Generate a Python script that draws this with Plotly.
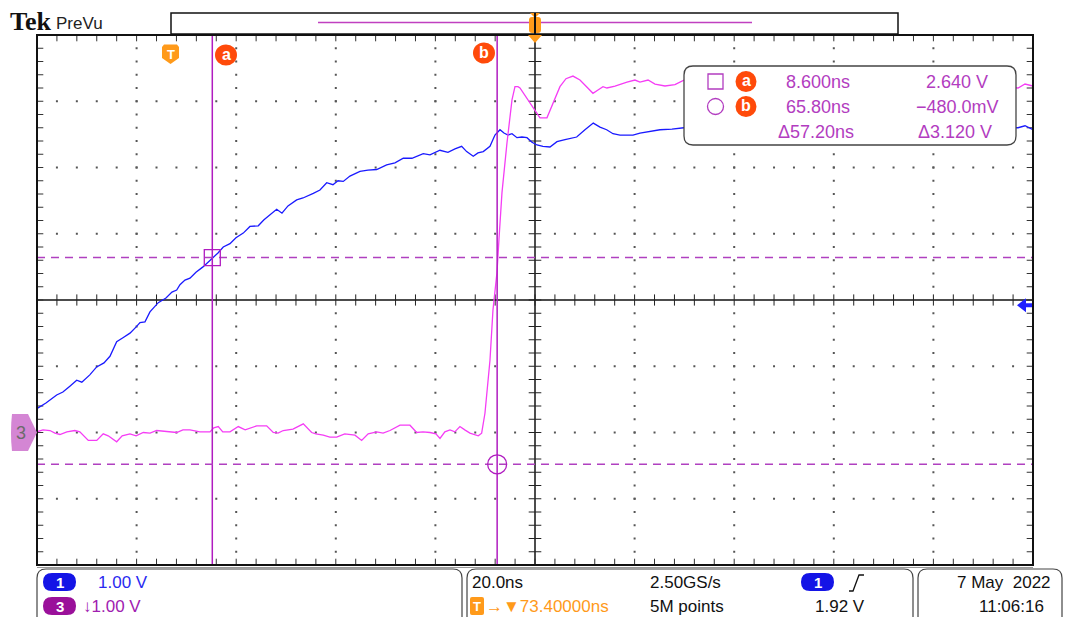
import numpy as np
import plotly.graph_objects as go

# ---------------- data ----------------
# Channel 1 (blue), time in ns relative to trigger, volts
ch1_t = [-26.55, -24.8, -22.65, -21.4, -20.0, -18.63, -17.6, -16.0, -14.62, -13.15, -11.95, -10.6,
         -9.34, -7.93, -6.73, -5.92, -4.92, -3.92, -2.25, -0.7, 0.5, 1.45, 2.11, 3.11, 4.12, 5.32,
         6.73, 7.73, 8.8, 9.74, 10.8, 12.15, 13.35, 14.82, 16.16, 17.83, 18.98, 20.18, 21.53, 22.59,
         23.8, 25.54, 26.81, 28.88, 30.22, 31.57, 32.83, 33.84, 34.9, 36.24, 38.25, 39.86, 41.61,
         43.61, 45.28, 46.95, 48.69, 50.96, 52.31, 54.32, 55.92, 57.33, 58.67, 59.68, 61.0, 61.95,
         63.01, 64.36, 65.36, 66.37, 67.17, 67.97, 68.78, 69.78, 70.78, 71.79, 72.79, 73.8, 75.0,
         76.41, 77.81, 79.42, 81.77, 83.43, 85.1, 86.45, 87.79, 89.06, 90.46, 91.87, 93.07, 94.48,
         96.49, 98.49, 100.9, 103.3, 120.0, 140.0, 160.0, 170.4, 171.8, 173.4]
ch1_v = [0.365, 0.445, 0.566, 0.611, 0.70, 0.79, 0.76, 0.87, 0.99, 1.05, 1.15, 1.37,
         1.43, 1.50, 1.59, 1.66, 1.67, 1.82, 1.96, 2.03, 2.12, 2.15, 2.23, 2.30, 2.33, 2.42,
         2.50, 2.57, 2.65, 2.71, 2.80, 2.85, 2.94, 3.01, 3.11, 3.12, 3.21, 3.28, 3.37, 3.31,
         3.42, 3.51, 3.54, 3.61, 3.66, 3.77, 3.74, 3.80, 3.79, 3.87, 3.94, 3.96, 3.97,
         4.04, 4.07, 4.14, 4.14, 4.21, 4.19, 4.26, 4.23, 4.28, 4.32, 4.24, 4.17, 4.22,
         4.24, 4.32, 4.49, 4.57, 4.52, 4.49, 4.51, 4.45, 4.46, 4.45, 4.38, 4.34, 4.32,
         4.31, 4.39, 4.42, 4.46, 4.57, 4.67, 4.61, 4.57, 4.51, 4.49, 4.49, 4.49, 4.52,
         4.55, 4.57, 4.58, 4.60, 4.60, 4.62, 4.60, 4.60, 4.63, 4.57]

# Channel 3 (magenta)
ch3_t = [-26.67, -25.4, -24.0, -23.0, -22.0, -20.6, -19.0, -18.0, -16.3, -14.6, -13.3, -12.3, -10.6,
         -9.5, -7.93, -6.7, -5.26, -3.9, -2.57, -0.9, 1.45, 2.7, 4.12, 6.1, 8.13, 8.9, 9.8, 10.7,
         12.15, 13.82, 15.2, 17.51, 19.52, 20.84, 21.8, 22.85, 24.8, 26.87, 27.6, 28.55, 29.4,
         30.88, 32.2, 33.57, 35.2, 37.25, 38.59, 39.9, 41.61, 42.9, 44.28, 46.29, 48.29, 49.64,
         50.9, 52.31, 53.5, 54.32, 55.3, 56.33, 57.3, 58.33, 59.3, 60.34, 62.01, 62.69, 63.35,
         63.96, 64.36, 64.96, 65.76, 66.16, 66.77, 67.77, 68.78, 69.38, 69.98, 70.38, 71.39,
         72.39, 73.39, 74.4, 75.8, 77.01, 78.41, 79.62, 81.02, 82.43, 83.84, 85.04, 86.05,
         87.05, 87.85, 89.46, 91.87, 93.47, 94.48, 96.1, 97.5, 99.5, 101.5, 103.3, 120.0,
         140.0, 160.0, 170.4, 171.8, 173.4]
ch3_v = [0.01, 0.04, 0.03, -0.01, -0.03, 0.01, 0.03, 0.01, -0.12, -0.12, -0.02, -0.05, -0.14,
         -0.05, -0.02, -0.05, 0.00, -0.01, 0.03, 0.02, 0.00, 0.04, 0.04, 0.01, 0.01, 0.07, 0.09, 0.01,
         0.01, 0.09, 0.04, 0.10, 0.10, 0.00, -0.01, 0.03, 0.05, 0.13, 0.07, 0.00, -0.02,
         -0.04, -0.07, -0.07, -0.02, -0.04, -0.12, -0.02, 0.01, -0.01, 0.03, 0.11, 0.11, 0.00,
         0.01, 0.00, -0.02, -0.09, 0.01, 0.04, 0.01, 0.09, 0.04, -0.01, -0.05, -0.01, 0.29,
         0.72, 1.09, 1.85, 2.41, 2.91, 3.62, 4.37, 5.02, 5.22, 5.22, 5.20, 5.09,
         4.97, 4.87, 4.75, 4.75, 4.97, 5.22, 5.34, 5.38, 5.32, 5.22, 5.12, 5.17,
         5.22, 5.20, 5.23, 5.29, 5.32, 5.29, 5.32, 5.26, 5.23, 5.25, 5.32, 5.27,
         5.25, 5.27, 5.20, 5.26, 5.23]

# scope settings
time_per_div = 20.0      # ns/div
volts_per_div = 1.0      # V/div
h_delay = 73.4           # ns, screen centre relative to trigger
ground_div = -2.0        # ch1/ch3 ground position (div from centre)
cursor_a = (8.6, 2.64)   # ns, V
cursor_b = (65.8, -0.48)
trigger_level = 1.92     # V on ch1

readout_rows = [("8.600ns", "2.640 V"), ("65.80ns", "\u2212480.0mV"), ("\u039457.20ns", "\u03943.120 V")]

t_range = [h_delay - 5 * time_per_div, h_delay + 5 * time_per_div]
v_range = [(-4 - ground_div) * volts_per_div, (4 - ground_div) * volts_per_div]

# ---------------- layout geometry (pixels) ----------------
W, H = 1065, 617
L, R, T, B = 37, 1033, 35, 565


def PX(x):
    return (x - L) / (R - L)


def PY(y):
    return (B - y) / (B - T)


def pt(x, y):
    return f"{PX(x):.5f},{PY(y):.5f}"


def rrect(x0, y0, x1, y1, r):
    return (f"M {pt(x0 + r, y0)} L {pt(x1 - r, y0)} Q {pt(x1, y0)} {pt(x1, y0 + r)} "
            f"L {pt(x1, y1 - r)} Q {pt(x1, y1)} {pt(x1 - r, y1)} L {pt(x0 + r, y1)} "
            f"Q {pt(x0, y1)} {pt(x0, y1 - r)} L {pt(x0, y0 + r)} Q {pt(x0, y0)} {pt(x0 + r, y0)} Z")


def poly(points):
    return "M " + " L ".join(pt(x, y) for x, y in points) + " Z"


FONT = "Liberation Sans, Arial, sans-serif"
PURPLE_TXT = "#b23cc0"
CURSOR = "#b01cc0"
ORANGE = "#ff9a1a"
RED_OR = "#ff4a0a"

fig = go.Figure()

# ---------------- graticule (division units on base axes) ----------------
mx = np.round(np.arange(-5, 5.001, 0.2), 3)
my = np.round(np.arange(-4, 4.001, 0.2), 3)
gx, gy = [], []
for yy in [-3, -2, -1, 1, 2, 3]:
    gx += list(mx); gy += [yy] * len(mx)
for xx in [-4, -3, -2, -1, 1, 2, 3, 4]:
    gx += [xx] * len(my); gy += list(my)
fig.add_trace(go.Scatter(x=gx, y=gy, mode="markers", hoverinfo="skip", showlegend=False,
                         marker=dict(symbol="square", size=2, color="#555", line=dict(width=0))))


def ticks(xs, ys, symbol, size, color):
    fig.add_trace(go.Scatter(x=xs, y=ys, mode="markers", hoverinfo="skip", showlegend=False,
                             marker=dict(symbol=symbol, size=size, color=color,
                                         line=dict(width=1, color=color))))


# centre-line ticks
ticks(list(mx), [0] * len(mx), "line-ns-open", 8, "#222")
ticks([0] * len(my), list(my), "line-ew-open", 9, "#222")
# edge ticks
ticks(list(mx) * 2, [4] * len(mx) + [-4] * len(mx), "line-ns-open", 9, "#333")
ticks([-5] * len(my) + [5] * len(my), list(my) * 2, "line-ew-open", 9, "#333")

# ---------------- waveforms (ns / V on overlay axes) ----------------
fig.add_trace(go.Scatter(x=ch1_t, y=ch1_v, mode="lines", xaxis="x2", yaxis="y2", showlegend=False,
                         line=dict(color="#1a1aff", width=1.3)))
fig.add_trace(go.Scatter(x=ch3_t, y=ch3_v, mode="lines", xaxis="x2", yaxis="y2", showlegend=False,
                         line=dict(color="#f53df5", width=1.3)))

shapes = []
# centre lines
shapes.append(dict(type="line", xref="x", yref="y", x0=-5, x1=5, y0=0, y1=0,
                   line=dict(color="#111", width=1.5), layer="below"))
shapes.append(dict(type="line", xref="x", yref="y", x0=0, x1=0, y0=-4, y1=4,
                   line=dict(color="#111", width=1.5), layer="below"))
# cursors
for tc, vc in (cursor_a, cursor_b):
    shapes.append(dict(type="line", xref="x2", yref="paper", x0=tc, x1=tc, y0=0, y1=1,
                       line=dict(color=CURSOR, width=1.5)))
    shapes.append(dict(type="line", xref="paper", yref="y2", x0=0, x1=1, y0=vc, y1=vc,
                       line=dict(color="#b040c0", width=1.5, dash="8px,6px")))
shapes.append(dict(type="rect", xref="x2", yref="y2", xsizemode="pixel", ysizemode="pixel",
                   xanchor=cursor_a[0], yanchor=cursor_a[1], x0=-8, x1=8, y0=-8, y1=8,
                   line=dict(color=CURSOR, width=1.3)))
shapes.append(dict(type="circle", xref="x2", yref="y2", xsizemode="pixel", ysizemode="pixel",
                   xanchor=cursor_b[0], yanchor=cursor_b[1], x0=-9.5, x1=9.5, y0=-9.5, y1=9.5,
                   line=dict(color=CURSOR, width=1.3)))
# graticule border
shapes.append(dict(type="rect", xref="paper", yref="paper", x0=0, x1=1, y0=0, y1=1,
                   line=dict(color="#111", width=2)))
shapes.append(dict(type="line", xref="paper", yref="paper", x0=0, x1=1, y0=PY(567.5), y1=PY(567.5),
                   line=dict(color="#999", width=1.2)))

# readout box
shapes.append(dict(type="path", xref="paper", yref="paper", path=rrect(684, 66, 1016, 145, 9),
                   fillcolor="white", line=dict(color="#444", width=1.3)))
shapes.append(dict(type="rect", xref="paper", yref="paper", x0=PX(708), x1=PX(723), y0=PY(74), y1=PY(89),
                   line=dict(color=PURPLE_TXT, width=1.3)))
shapes.append(dict(type="circle", xref="paper", yref="paper", x0=PX(707.5), x1=PX(723.5), y0=PY(98.5),
                   y1=PY(114.5), line=dict(color=PURPLE_TXT, width=1.3)))
for cy in (81.5, 106.5):
    shapes.append(dict(type="circle", xref="paper", yref="paper", x0=PX(735.5), x1=PX(756.5),
                       y0=PY(cy - 10.5), y1=PY(cy + 10.5), fillcolor=RED_OR, line=dict(width=0)))

# cursor labels on top of graticule
for cx, cy in ((226, 55), (484, 53)):
    shapes.append(dict(type="circle", xref="paper", yref="paper", x0=PX(cx - 11), x1=PX(cx + 11),
                       y0=PY(cy - 10.5), y1=PY(cy + 10.5), fillcolor=RED_OR, line=dict(width=0)))
# trigger T marker
shapes.append(dict(type="path", xref="paper", yref="paper",
                   path=poly([(162, 47), (164, 44.5), (177, 44.5), (179, 47), (179, 58), (170.5, 64), (162, 58)]),
                   fillcolor=ORANGE, line=dict(width=0)))

# record view bar
shapes.append(dict(type="rect", xref="paper", yref="paper", x0=PX(171), x1=PX(898), y0=PY(13), y1=PY(34),
                   fillcolor="white", line=dict(color="#111", width=1.5)))
shapes.append(dict(type="line", xref="paper", yref="paper", x0=PX(318), x1=PX(752), y0=PY(22.5), y1=PY(22.5),
                   line=dict(color="#c040c0", width=1.5)))
shapes.append(dict(type="path", xref="paper", yref="paper", path=rrect(529, 17, 541, 33, 3),
                   fillcolor=ORANGE, line=dict(width=0)))
shapes.append(dict(type="path", xref="paper", yref="paper", path=poly([(530, 13), (540, 13), (535, 18)]),
                   fillcolor=ORANGE, line=dict(width=0)))
shapes.append(dict(type="line", xref="paper", yref="paper", x0=PX(535), x1=PX(535), y0=PY(13), y1=PY(35),
                   line=dict(color="#111", width=2)))
shapes.append(dict(type="path", xref="paper", yref="paper", path=poly([(528, 35), (542, 35), (535, 43)]),
                   fillcolor=ORANGE, line=dict(width=0)))

# channel 3 ground marker (+ channel 1 marker hidden behind)
shapes.append(dict(type="line", xref="paper", yref="paper", x0=PX(12), x1=PX(27), y0=PY(443.5), y1=PY(443.5),
                   line=dict(color="#2020ff", width=2)))
shapes.append(dict(type="path", xref="paper", yref="y2",
                   path=f"M {PX(12):.5f},{0.28} L {PX(28):.5f},{0.28} L {PX(37):.5f},0 "
                        f"L {PX(28):.5f},{-0.28} L {PX(12):.5f},{-0.28} Q {PX(10):.5f},0 {PX(12):.5f},{0.28} Z",
                   fillcolor="#d486d4", line=dict(width=0)))
# trigger level arrow (right)
shapes.append(dict(type="path", xref="paper", yref="y2", xsizemode="pixel", ysizemode="pixel",
                   xanchor=1, yanchor=trigger_level,
                   path="M -16 0 L -7 7 L -7 2 L -1 2 L -1 -2 L -7 -2 L -7 -7 Z",
                   fillcolor="#2020ff", line=dict(width=0)))

# bottom status panels
for x0, x1 in ((37, 462), (467, 913), (918, 1062)):
    shapes.append(dict(type="path", xref="paper", yref="paper", path=rrect(x0, 569, x1, 640, 9),
                       line=dict(color="#444", width=1.2)))
for (x0, y0, x1, y1, col) in ((43, 573, 76, 591, "#1414e6"), (43, 597, 76, 615, "#9a109a"),
                              (801, 573, 834, 591, "#1414e6")):
    shapes.append(dict(type="path", xref="paper", yref="paper", path=rrect(x0, y0, x1, y1, 9),
                       fillcolor=col, line=dict(width=0)))
shapes.append(dict(type="path", xref="paper", yref="paper", path=rrect(470, 597, 484, 615, 2),
                   fillcolor=ORANGE, line=dict(width=0)))
shapes.append(dict(type="path", xref="paper", yref="paper",
                   path=f"M {pt(849, 591)} L {pt(853, 591)} L {pt(859, 575)} L {pt(864, 575)}",
                   line=dict(color="#111", width=1.3)))

ann = []


def txt(x, y, s, color, size=18, anchor="left", family=FONT):
    ann.append(dict(xref="paper", yref="paper", x=PX(x), y=PY(y), text=s, showarrow=False,
                    xanchor=anchor, yanchor="middle", font=dict(family=family, size=size, color=color)))


# top-left logo
txt(8, 22, "<b>Tek</b>", "#111", 26, family="Liberation Serif, Times New Roman, serif")
txt(54, 23, "PreVu", "#222", 17)
# markers
txt(170.5, 54, "<b>T</b>", "white", 13, "center")
txt(226, 54.5, "<b>a</b>", "white", 16, "center")
txt(484, 52.5, "<b>b</b>", "white", 16, "center")
txt(21, 432.5, "3", "#6b6b6b", 18, "center")
# readout
txt(746, 80.5, "<b>a</b>", "white", 16, "center")
txt(746, 105.5, "<b>b</b>", "white", 16, "center")
row_y = [81.5, 106.5, 131.5]
left_x = [784, 784, 776]
right_x = [924, 914, 916]
for i, (a, b) in enumerate(readout_rows):
    txt(left_x[i], row_y[i], a, PURPLE_TXT, 18)
    txt(right_x[i], row_y[i], b, PURPLE_TXT, 18)
# status bar
txt(59.5, 582, "<b>1</b>", "white", 15, "center")
txt(59.5, 606, "<b>3</b>", "white", 15, "center")
txt(96, 582, "1.00 V", "#2a2af0", 17)
txt(81, 606, "\u21931.00 V", "#a020b0", 17)
txt(470, 582, "20.0ns", "#111", 17)
txt(477, 606, "<b>T</b>", "white", 13, "center")
txt(484, 606, "\u2192\u25bc73.40000ns", ORANGE, 17)
txt(648, 582, "2.50GS/s", "#111", 17)
txt(648, 606, "5M points", "#111", 17)
txt(817.5, 582, "<b>1</b>", "white", 15, "center")
txt(867, 606, "1.92 V", "#111", 17, "right")
txt(1053, 582, "7 May  2022", "#111", 17, "right")
txt(1046, 606, "11:06:16", "#111", 17, "right")

fig.update_layout(
    width=W, height=H, autosize=False,
    margin=dict(l=L, r=W - R, t=T, b=H - B, pad=0),
    paper_bgcolor="white", plot_bgcolor="white",
    xaxis=dict(range=[-5, 5], visible=False, fixedrange=True),
    yaxis=dict(range=[-4, 4], visible=False, fixedrange=True),
    xaxis2=dict(range=t_range, overlaying="x", visible=False, fixedrange=True),
    yaxis2=dict(range=v_range, overlaying="y", visible=False, fixedrange=True),
    shapes=shapes, annotations=ann, showlegend=False,
)

fig.write_html("out.html", post_script="document.body.style.margin='0';",
               config={"displayModeBar": False})
